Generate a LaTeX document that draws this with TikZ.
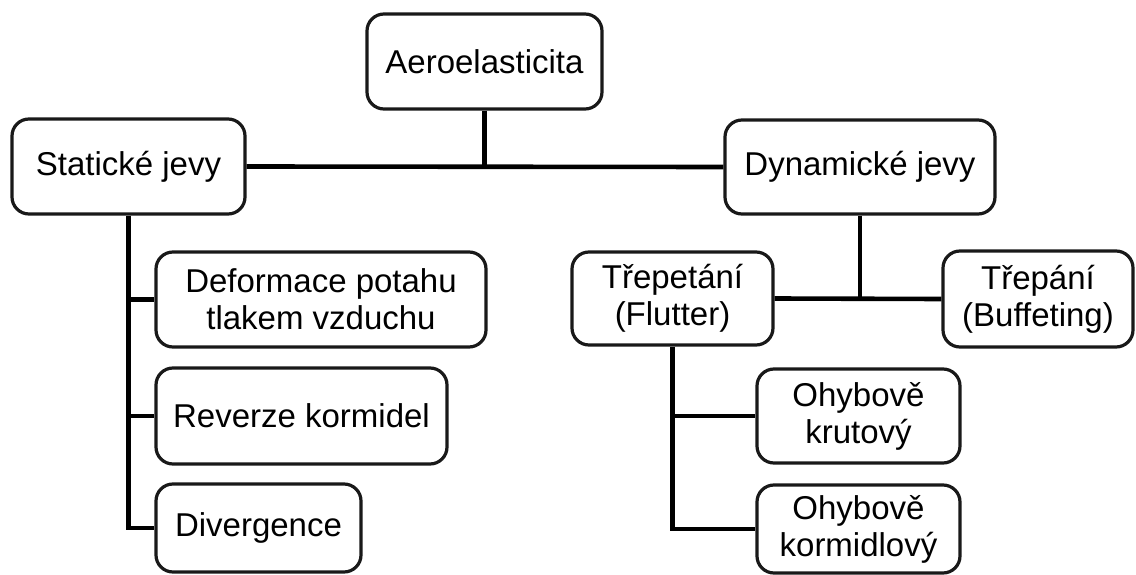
\documentclass[tikz,border=0pt]{standalone}
\usepackage{fontspec}
\setmainfont{Liberation Sans}
\begin{document}
\begin{tikzpicture}[x=1pt,y=-1pt,
  box/.style={draw=black!90, line width=3.2pt, rounded corners=17pt, fill=white,
    inner sep=0pt, align=center, text=black,
    font=\fontsize{33}{37}\selectfont},
  conn/.style={draw=black, line width=4.6pt}]
\useasboundingbox[fill=white] (0,0) rectangle (1136,575);
% boxes
\node[box, minimum width=235pt, minimum height=95pt] (aero) at (484.5,61.5) {Aeroelasticita};
\node[box, minimum width=233pt, minimum height=95pt] (stat) at (128.5,166.5) {Statické jevy};
\node[box, minimum width=270pt, minimum height=94pt] (dyn) at (860,167) {Dynamické jevy};
\node[box, minimum width=330pt, minimum height=95pt] (def) at (321,299.5) {Deformace potahu\\tlakem vzduchu};
\node[box, minimum width=291pt, minimum height=96pt] (rev) at (301.5,416) {Reverze kormidel};
\node[box, minimum width=205pt, minimum height=88pt] (div) at (258.5,528) {Divergence};
\node[box, minimum width=201pt, minimum height=93pt] (flut) at (672.5,298.5) {Třepetání\\(Flutter)};
\node[box, minimum width=190pt, minimum height=96pt] (buff) at (1038,299) {Třepání\\(Buffeting)};
\node[box, minimum width=203pt, minimum height=94pt] (krut) at (858.5,416) {Ohybově\\krutový};
\node[box, minimum width=203pt, minimum height=88pt] (korm) at (858.5,529) {Ohybově\\kormidlový};
% connectors
\draw[conn] (stat.east) -- (dyn.west);
\draw[conn] (aero.south) -- (aero.south |- stat.east);
\draw[conn] (stat.south) -- (stat.south |- div.west) -- (div.west);
\draw[conn] (stat.south |- def.west) -- (def.west);
\draw[conn] (stat.south |- rev.west) -- (rev.west);
\draw[conn] (flut.east) -- (buff.west);
\draw[conn] (dyn.south) -- (dyn.south |- flut.east);
\draw[conn] (flut.south) -- (flut.south |- korm.west) -- (korm.west);
\draw[conn] (flut.south |- krut.west) -- (krut.west);
\end{tikzpicture}
\end{document}
